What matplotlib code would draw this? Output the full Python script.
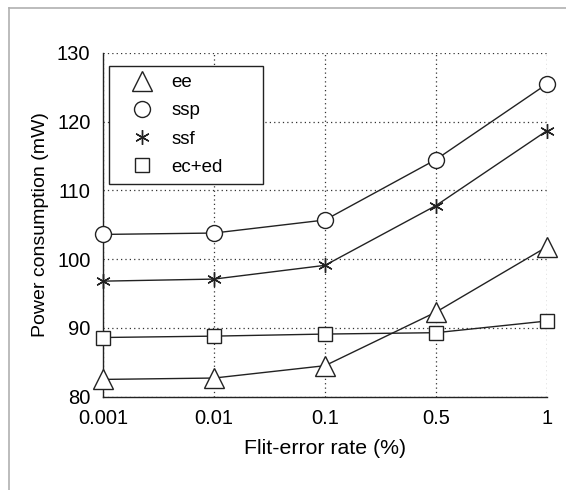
import matplotlib.pyplot as plt
from matplotlib.lines import Line2D

plt.rcParams['font.family'] = ['Liberation Sans', 'DejaVu Sans']

rates = ['0.001', '0.01', '0.1', '0.5', '1']
ee = [82.5, 82.7, 84.5, 92.3, 101.8]
ssp = [103.6, 103.8, 105.7, 114.5, 125.5]
ssf = [96.8, 97.1, 99.1, 107.8, 118.7]
ec_ed = [88.6, 88.8, 89.1, 89.3, 91.0]

x = list(range(len(rates)))

fig = plt.figure(figsize=(5.66, 4.90), dpi=100)
ax = fig.add_axes([103 / 566, 1 - 396.6 / 490, 444 / 566, 343.6 / 490])

# grey frame at the top and left of the picture
fig.add_artist(Line2D([9 / 566, 1], [1 - 8 / 490, 1 - 8 / 490], color='#b0b0b0', lw=1.2))
fig.add_artist(Line2D([9 / 566, 9 / 566], [0, 1 - 8 / 490], color='#b0b0b0', lw=1.2))

mk = dict(color='#222222', lw=1.0, markerfacecolor='white', markeredgecolor='#222222',
          markeredgewidth=1.0, clip_on=False, zorder=3)
ax.plot(x, ee, marker='^', markersize=15, label='ee', **mk)
ax.plot(x, ssp, marker='o', markersize=11.5, label='ssp', **mk)
ax.plot(x, ssf, marker=(6, 2, 0), markersize=10.5, label='ssf', **mk)
ax.plot(x, ec_ed, marker='s', markersize=9.5, label='ec+ed', **mk)

ax.set_xlim(0, 4)
ax.set_ylim(80, 130)
ax.set_xticks(x)
ax.set_xticklabels(rates)
ax.set_yticks(range(80, 131, 10))
ax.tick_params(length=0, labelsize=14.5)
ax.tick_params(axis='x', pad=9)
ax.tick_params(axis='y', pad=9)

ax.grid(True, linestyle=(0, (1, 2.5)), color='#333333', lw=0.9)
ax.spines['top'].set_visible(False)
ax.spines['right'].set_visible(False)
for s in ('left', 'bottom'):
    ax.spines[s].set_linewidth(1.0)
    ax.spines[s].set_color('#222222')

ax.set_xlabel('Flit-error rate (%)', fontsize=15.3, labelpad=8)
ax.set_ylabel('Power consumption (mW)', fontsize=14, labelpad=6)

leg = ax.legend(loc='upper left', bbox_to_anchor=(0.0135, 0.6, 0.347, 0.363), mode='expand',
                fancybox=False, edgecolor='#222222', framealpha=1, fontsize=13.5,
                handlelength=2.66, handletextpad=0.2, borderpad=0.45, labelspacing=0.59,
                borderaxespad=0, numpoints=1)
for h in leg.legend_handles:
    h.set_linestyle('None')
leg.get_frame().set_linewidth(1.0)

fig.savefig('out.png', dpi=100)
